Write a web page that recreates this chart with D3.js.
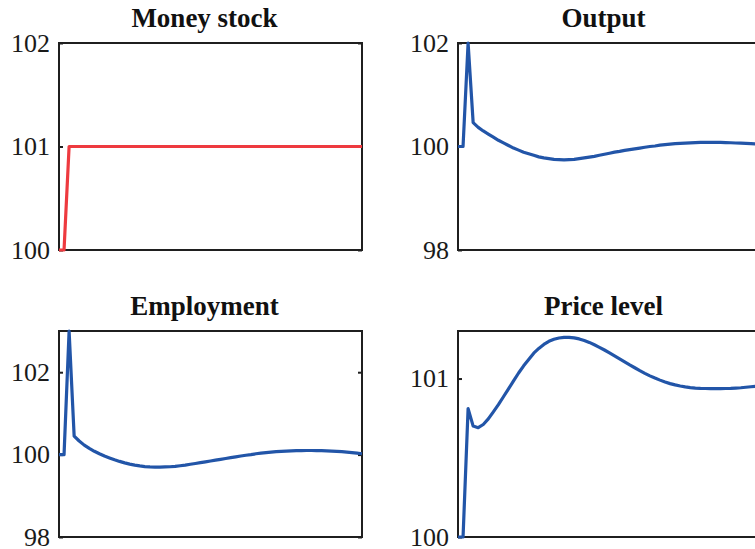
<!DOCTYPE html>
<html>

<head>
    <title>Money shock impulse responses</title>
    <script src="https://d3js.org/d3.v7.min.js"></script>
    <style>
        body {
            margin: 0;
            background: #fff;
        }

        .tick text {
            font-family: "Liberation Serif", serif;
            font-size: 26px;
            fill: #1a1a1a;
        }

        .title {
            font-family: "Liberation Serif", serif;
            font-size: 27px;
            font-weight: bold;
            fill: #111;
            text-anchor: middle;
        }
    </style>
</head>

<body>
    <div id="chart"></div>

    <script>
        // periods 0..60
        const periods = d3.range(0, 61);

        const moneyStock = [100, 100].concat(d3.range(2, 61).map(() => 101));

        const output = [
            100, 100, 102, 100.46, 100.37, 100.30, 100.24, 100.18, 100.12, 100.07,
            100.02, 99.97, 99.93, 99.89, 99.86, 99.83, 99.80, 99.78, 99.765, 99.75,
            99.745, 99.74, 99.745, 99.75, 99.765, 99.78, 99.795, 99.81, 99.83, 99.85,
            99.87, 99.89, 99.905, 99.925, 99.94, 99.955, 99.97, 99.985, 100.0, 100.01,
            100.025, 100.035, 100.045, 100.055, 100.06, 100.065, 100.07, 100.075, 100.078, 100.08,
            100.08, 100.08, 100.078, 100.075, 100.072, 100.068, 100.064, 100.06, 100.056, 100.05,
            100.045
        ];

        const employment = [
            100, 100, 103, 100.45, 100.33, 100.23, 100.15, 100.08, 100.02, 99.965,
            99.92, 99.875, 99.835, 99.80, 99.77, 99.745, 99.725, 99.71, 99.70, 99.695,
            99.695, 99.70, 99.705, 99.715, 99.73, 99.745, 99.765, 99.785, 99.805, 99.825,
            99.845, 99.865, 99.885, 99.905, 99.925, 99.945, 99.965, 99.985, 100.0, 100.02,
            100.035, 100.05, 100.06, 100.07, 100.08, 100.085, 100.09, 100.095, 100.098, 100.10,
            100.10, 100.098, 100.095, 100.09, 100.085, 100.078, 100.07, 100.06, 100.05, 100.035,
            100.02
        ];

        const priceLevel = [
            100, 100, 100.81, 100.70, 100.69, 100.71, 100.745, 100.79, 100.835, 100.885,
            100.935, 100.985, 101.035, 101.08, 101.12, 101.16, 101.19, 101.215, 101.235, 101.248,
            101.256, 101.26, 101.26, 101.257, 101.25, 101.24, 101.228, 101.213, 101.197, 101.18,
            101.162, 101.143, 101.124, 101.105, 101.086, 101.068, 101.05, 101.033, 101.017, 101.003,
            100.99, 100.978, 100.968, 100.96, 100.953, 100.947, 100.943, 100.94, 100.938, 100.937,
            100.936, 100.936, 100.936, 100.937, 100.938, 100.94, 100.942, 100.945, 100.948, 100.951,
            100.954
        ];

        const moneyTicks = [100, 101, 102];
        const outputTicks = [98, 100, 102];
        const employmentTicks = [98, 100, 102];
        const priceTicks = [100, 101];

        const width = 755,
            height = 549;
        const panelW = 303;

        const svg = d3.select("#chart").append("svg")
            .attr("width", width)
            .attr("height", height);

        function drawPanel(opts) {
            const x = d3.scaleLinear().domain([0, 60]).range([opts.left, opts.left + panelW]);
            const y = d3.scaleLinear().domain(opts.domain).range([opts.bottom, opts.top]);

            const g = svg.append("g");

            // box
            g.append("rect")
                .attr("x", opts.left)
                .attr("y", opts.top)
                .attr("width", panelW)
                .attr("height", opts.bottom - opts.top)
                .attr("fill", "none")
                .attr("stroke", "#1f1f1f")
                .attr("stroke-width", 2);

            const left = g.append("g")
                .attr("transform", "translate(" + opts.left + ",0)")
                .call(d3.axisLeft(y).tickValues(opts.ticks).tickSize(-4).tickPadding(9).tickFormat(d3.format("d")));
            left.select(".domain").remove();
            left.selectAll(".tick line").attr("stroke", "#1f1f1f").attr("stroke-width", 2);

            const right = g.append("g")
                .attr("transform", "translate(" + (opts.left + panelW) + ",0)")
                .call(d3.axisRight(y).tickValues(opts.ticks).tickSize(-4).tickFormat(""));
            right.select(".domain").remove();
            right.selectAll(".tick line").attr("stroke", "#1f1f1f").attr("stroke-width", 2);

            const line = d3.line()
                .x((d, i) => x(periods[i]))
                .y(d => y(d));

            g.append("path")
                .datum(opts.values)
                .attr("d", line)
                .attr("fill", "none")
                .attr("stroke", opts.color)
                .attr("stroke-width", 3.2)
                .attr("stroke-linejoin", "round");

            g.append("text")
                .attr("class", "title")
                .attr("x", opts.left + panelW / 2 - 6)
                .attr("y", opts.top - 16)
                .text(opts.title);
        }

        drawPanel({ title: "Money stock", values: moneyStock, domain: [100, 102], ticks: moneyTicks,
            left: 59, top: 43, bottom: 250, color: "#ee3a3f" });
        drawPanel({ title: "Output", values: output, domain: [98, 102], ticks: outputTicks,
            left: 458, top: 43, bottom: 250, color: "#2255a8" });
        drawPanel({ title: "Employment", values: employment, domain: [98, 103], ticks: employmentTicks,
            left: 59, top: 331, bottom: 537, color: "#2255a8" });
        drawPanel({ title: "Price level", values: priceLevel, domain: [100, 101.3], ticks: priceTicks,
            left: 458, top: 331, bottom: 537, color: "#2255a8" });
    </script>
</body>

</html>
